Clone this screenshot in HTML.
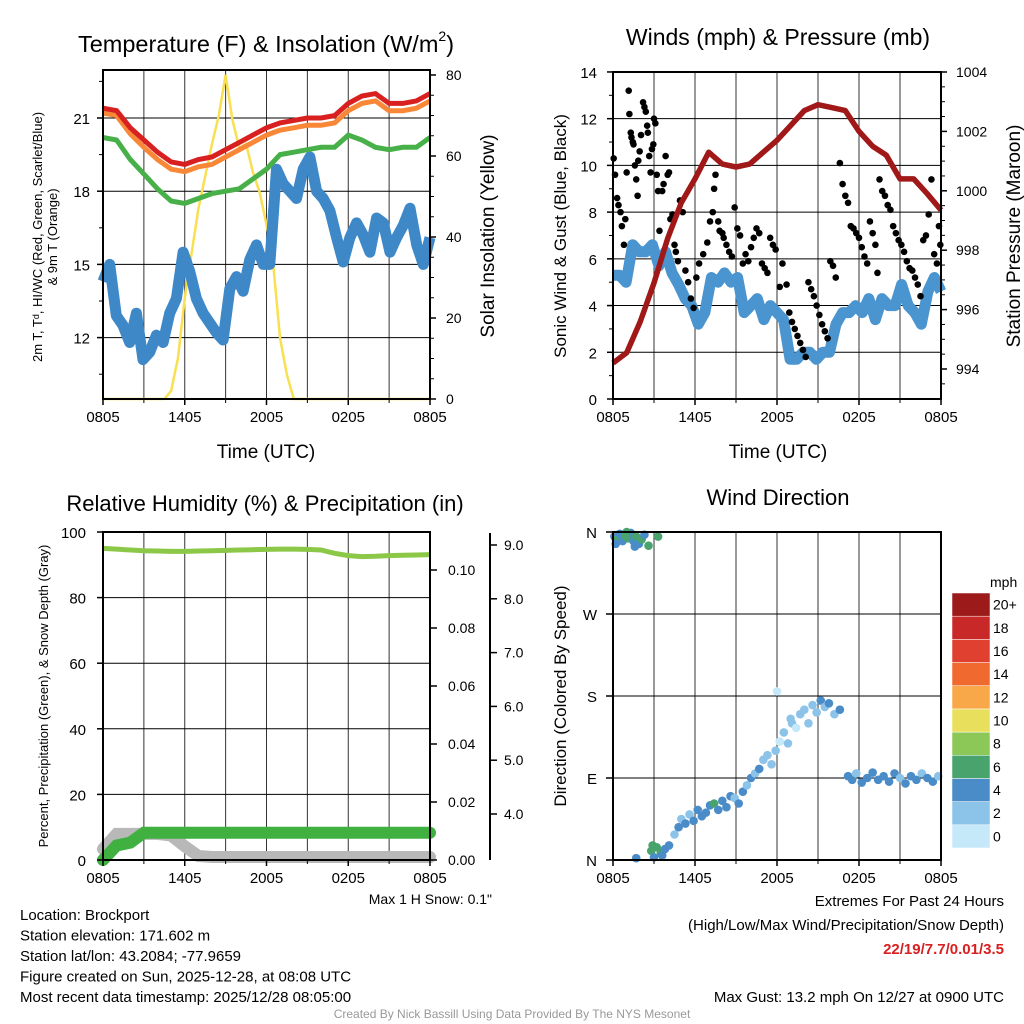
<!DOCTYPE html>
<html><head><meta charset="utf-8"><style>
html,body{margin:0;padding:0;background:#fff;}
svg{display:block;font-family:"Liberation Sans",Arial,sans-serif;}
</style></head><body>
<svg id="chart" width="1024" height="1024" viewBox="0 0 1024 1024" xmlns="http://www.w3.org/2000/svg">
<rect x="0" y="0" width="1024" height="1024" fill="#fff"/>
</svg>
<script>
// ---------- DATA ----------
const timeLabels = ["0805","1405","2005","0205","0805"];
// Panel 1 (hourly, 25 values)
const tempRed = [21.4,21.3,20.6,20.1,19.6,19.2,19.1,19.3,19.4,19.7,20.0,20.3,20.6,20.8,20.9,21.0,21.0,21.1,21.6,21.9,22.0,21.6,21.6,21.7,22.0];
const tempOrange = [21.2,21.1,20.35,19.8,19.3,18.9,18.8,19.0,19.1,19.4,19.7,20.0,20.3,20.5,20.6,20.7,20.7,20.8,21.3,21.6,21.7,21.3,21.3,21.4,21.7];
const tempGreen = [20.2,20.1,19.3,18.7,18.1,17.6,17.5,17.7,17.9,18.0,18.1,18.5,18.9,19.5,19.6,19.7,19.8,19.8,20.3,20.1,19.8,19.7,19.8,19.8,20.2];
// evenly spaced across 24 h
const tempSonic = [14.3,15.0,12.9,12.5,11.8,13.0,11.1,11.4,12.1,11.8,13.0,13.6,15.5,14.7,13.6,13.0,12.6,12.2,11.9,14.0,14.5,13.9,15.2,15.8,15.0,15.0,18.9,18.3,18.0,17.7,18.9,19.4,18.0,17.7,17.2,16.1,15.1,16.1,16.7,16.2,15.5,16.9,16.7,15.5,16.1,16.6,17.3,15.8,15.0,16.1];
const insolation = [0,0,0,0,0,0,0,0,0,0,2,10,25,36,47,55,63,70,80,69,62,63,56,51,43,33,15,6,0,0,0,0,0,0,0,0,0,0,0,0,0,0,0,0,0,0,0,0,0];
const tempTicks = [12,15,18,21];
const solarTicks = [0,20,40,60,80];
// Panel 2
const windSonic = [5.3,5.3,5.0,6.6,6.3,6.3,6.6,5.7,6.3,5.4,4.9,4.3,4.0,3.2,3.7,5.2,5.0,5.4,5.0,5.2,3.7,4.0,4.3,3.4,4.0,3.7,3.4,1.7,1.7,2.0,2.0,1.7,2.0,2.0,3.2,3.7,3.7,4.0,3.7,4.3,3.4,4.3,4.0,4.0,4.9,4.0,3.7,3.2,4.6,5.2,4.6];
const pressure = [994.2,994.55,995.6,996.9,998.4,999.6,1000.4,1001.3,1000.9,1000.8,1000.9,1001.3,1001.7,1002.2,1002.7,1002.9,1002.8,1002.7,1002.0,1001.5,1001.2,1000.4,1000.4,999.9,999.35];
const gustHours = [0.05,0.15,0.3,0.4,0.55,0.65,0.8,0.9,1.0, 1.15,1.2,1.3,1.35,1.45,1.5,1.6,1.7,1.8,1.85,1.95,2.05, 2.2,2.3,2.4,2.5,2.55,2.65,2.75,2.85,2.95,3.0,3.1,3.2,3.3,3.4, 3.6,3.7,3.85,4.0,4.1,4.2,4.35,4.5,4.6,4.75,4.9,5.1, 5.3,5.5,5.7,5.9,6.1,6.3,6.6,6.9,7.1, 7.3,7.4,7.5,7.7,7.8,8.0,8.1,8.3,8.5,8.7,8.9,9.1,9.3,9.5, 9.7,9.9,10.1,10.3,10.5,10.7,10.9,11.1,11.3,11.5,11.7,11.9,12.2,12.4, 12.7,12.9,13.1,13.3,13.5,13.7,13.9,14.1,14.3,14.5,14.7,14.9,15.1,15.3,15.5,15.7,15.9,16.1,16.3, 16.6,16.8,17.0,17.2,17.4,17.6,17.8,18.0,18.2,18.4,18.6,18.8,19.0,19.2,19.35, 19.5,19.7,19.9,20.1,20.3,20.5,20.7,20.9,21.1,21.3,21.5,21.7,21.9,22.1,22.3,22.5,22.7,22.9,23.1,23.3,23.5,23.7,23.85,23.95];
const gustValues = [10.3,9.6,8.6,8.3,8.0,7.4,6.6,7.7,9.7, 13.2,12.2,11.4,11.2,11.0,10.9,10.0,9.4,8.7,10.2,10.6,11.3, 12.7,12.5,12.3,11.7,11.4,10.4,9.7,10.7,10.9,12.0,11.8,9.6,8.9,7.2, 8.9,9.2,10.4,9.6,9.7,7.7,7.9,6.6,6.3,5.9,8.5,8.0, 5.5,5.0,4.3,3.9,5.2,5.8,6.2,6.7,7.6, 8.0,9.0,9.6,7.6,7.2,7.1,6.9,6.6,6.3,6.1,8.2,7.3,7.0,5.8, 6.2,5.9,6.5,6.9,7.3,7.1,5.8,5.6,5.4,6.9,6.6,6.4,4.8,5.8, 4.9,3.7,3.3,3.0,2.7,2.4,2.1,1.8,5.0,4.7,4.4,4.0,3.6,3.2,2.9,2.6,5.9,5.7,5.2, 10.1,9.2,8.7,8.4,7.4,7.3,7.1,6.9,6.5,6.1,5.8,7.6,7.1,6.6,5.4, 9.4,8.9,8.7,8.3,8.1,7.4,7.1,6.8,6.6,6.3,5.9,5.6,5.5,5.2,4.9,4.4,6.8,7.0,7.9,9.4,6.2,5.8,7.4,6.6];
const windTicks = [0,2,4,6,8,10,12,14];
const pressTicks = [994,996,998,1000,1002,1004];
// Panel 3 (hourly)
const rh = [95,94.8,94.5,94.3,94.2,94.1,94.1,94.2,94.3,94.4,94.5,94.6,94.7,94.8,94.8,94.7,94.5,93.5,92.8,92.5,92.6,92.8,92.9,93.0,93.1];
const precip = [0,0.005,0.006,0.0094,0.0094,0.0094,0.0094,0.0094,0.0094,0.0094,0.0094,0.0094,0.0094,0.0094,0.0094,0.0094,0.0094,0.0094,0.0094,0.0094,0.0094,0.0094,0.0094,0.0094,0.0094];
const snow = [3.35,3.63,3.63,3.63,3.63,3.6,3.4,3.22,3.2,3.2,3.2,3.2,3.2,3.2,3.2,3.2,3.2,3.2,3.2,3.2,3.2,3.2,3.2,3.2,3.2];
const rhTicks = [0,20,40,60,80,100];
const precipTicks = ["0.00","0.02","0.04","0.06","0.08","0.10"];
const snowTicks = ["4.0","5.0","6.0","7.0","8.0","9.0"];
// Panel 4
const dirHours = [0.1,0.3,0.5,0.7,0.9,1.1,1.3,1.5,1.7,1.9,2.1,2.3,2.6,3.3,0.2,1.0,1.6, 1.7,2.8,3.0,3.2,3.5,3.8,4.1,2.9,3.6, 4.5,4.8,5.0,5.3,5.6,5.9,6.2,6.5,6.8,7.1,7.4,7.7,8.0,8.3,8.6,8.9,9.2,9.5,9.8,10.1,10.4,10.7,11.0,11.3,11.6,11.9,12.2,12.5,12.8,13.1,13.4,13.7,14.0,14.3,14.6,14.9,15.2,15.5,15.8,16.2,16.6,12.0,13.0, 17.2,17.5,17.8,18.2,18.6,19.0,19.4,19.8,20.2,20.6,21.0,21.4,21.8,22.2,22.6,23.0,23.4,23.8];
const dirDegrees = [355,352,358,350,356,353,359,350,355,347,352,357,345,355,347,360,344, 2,10,3,14,8,12,16,16,5, 28,36,45,40,50,43,55,48,52,60,62,55,65,58,70,68,62,75,82,90,95,100,110,115,105,120,130,140,128,150,145,160,165,150,170,162,175,168,172,160,165,185,155, 92,88,95,85,90,96,88,92,86,95,90,84,92,88,95,90,86,92,88];
const dirSpeeds = [5,6,4,5,6,7,5,4,6,5,6,4,7,6,4,6,5, 4,6,5,7,6,4,5,6,5, 3,4,2,4,3,4,4,5,4,4,6,4,5,4,4,3,4,4,3,4,3,4,3,2,3,2,1,3,2,2,1,2,3,2,2,3,4,3,4,3,4,1,2, 4,4,3,5,4,4,5,4,4,4,3,4,4,4,3,4,4,3,4];
const speedLevels = ["0","2","4","6","8","10","12","14","16","18","20+"];
const speedColors = ["#c6e9fa","#8cc3e8","#4a8cc8","#48a46c","#8cc858","#e8e05c","#f8a848","#f06a30","#e04030","#c82828","#9c1a1a"];
const dirLabels = ["N","E","S","W","N"];

// ---------- HELPERS ----------
const NS='http://www.w3.org/2000/svg';
const svg=document.getElementById('chart');
function mk(tag,attrs,parent){const e=document.createElementNS(NS,tag);for(const k in attrs)e.setAttribute(k,attrs[k]);(parent||svg).appendChild(e);return e;}
function tx(x,y,s,size,anchor,rot,fill){const a={x:x,y:y,'font-size':size,'text-anchor':anchor||'middle',fill:fill||'#000'};if(rot)a.transform='rotate('+rot+' '+x+' '+y+')';const e=mk('text',a);e.textContent=s;return e;}
function linePath(vals,xf,yf,step){return vals.map((v,i)=>(i?'L':'M')+xf(i*step).toFixed(1)+','+yf(v).toFixed(1)).join(' ');}

// ---------- SCALES ----------
const X1=h=>103+h*327/24, YT=t=>118+(21-t)*24.4, YS=w=>399-w*4.05;
const X2=h=>613+h*328/24, YW=v=>399-v*23.36, YP=p=>369-(p-994)*29.7;
const X3=X1, YR=r=>860-r*3.28, YPr=p=>860-p*2900, YSn=s=>814-(s-4)*53.8;
const X4=X2, YD=d=>860-d*328/360;
const gridHours=[3,6,9,12,15,18,21];

function grid(g,x0,x1,y0,y1,xs,ys){xs.forEach(x=>mk('line',{x1:x,y1:y0,x2:x,y2:y1,stroke:'#000','stroke-width':1,'stroke-opacity':0.8},g));ys.forEach(y=>mk('line',{x1:x0,y1:y,x2:x1,y2:y,stroke:'#000','stroke-width':1},g));}
function timeAxis(g,xf,ybot){timeLabels.forEach((l,i)=>{const x=xf(i*6);mk('line',{x1:x,y1:ybot,x2:x,y2:ybot+6,stroke:'#000','stroke-width':1.5},g);const t=tx(x,ybot+23,l,15);});[3,9,15,21].forEach(h=>mk('line',{x1:xf(h),y1:ybot,x2:xf(h),y2:ybot+4,stroke:'#000'},g));}

// ================= PANEL 1 =================
const g1=mk('g',{});


grid(g1,103,430,70,399,gridHours.map(X1),tempTicks.map(YT));
const pSol=mk('path',{d:linePath(insolation,X1,YS,0.5),fill:'none',stroke:'#f8e050','stroke-width':2.5},g1);


const pSon=mk('path',{d:linePath(tempSonic,X1,YT,24/(tempSonic.length-1)),fill:'none',stroke:'#3e88c8','stroke-width':11,'stroke-linejoin':'round'},g1);


const pG=mk('path',{d:linePath(tempGreen,X1,YT,1),fill:'none',stroke:'#48b048','stroke-width':5},g1);


const pO=mk('path',{d:linePath(tempOrange,X1,YT,1),fill:'none',stroke:'#f88838','stroke-width':5},g1);


const pR=mk('path',{d:linePath(tempRed,X1,YT,1),fill:'none',stroke:'#d82020','stroke-width':5},g1);


mk('rect',{x:103,y:70,width:327,height:329,fill:'none',stroke:'#000','stroke-width':2},g1);
tempTicks.forEach(t=>{mk('line',{x1:97,y1:YT(t),x2:103,y2:YT(t),stroke:'#000','stroke-width':1.5},g1);const e=tx(90,YT(t)+6,String(t),15,'end');});
[10.5,13.5,16.5,19.5,22.5].forEach(t=>{if(YT(t)>70&&YT(t)<399)mk('line',{x1:99,y1:YT(t),x2:103,y2:YT(t),stroke:'#000'},g1);});
solarTicks.forEach(w=>{mk('line',{x1:430,y1:YS(w),x2:436,y2:YS(w),stroke:'#000','stroke-width':1.5},g1);const e=tx(446,YS(w)+5,String(w),14,'start');});
[5,10,15,25,30,35,45,50,55,65,70,75].forEach(w=>mk('line',{x1:430,y1:YS(w),x2:434,y2:YS(w),stroke:'#000'},g1));
timeAxis(g1,X1,399);
let e;
e=mk('text',{x:266,y:52,'font-size':23.5,'text-anchor':'middle',fill:'#000'});


e.innerHTML='Temperature (F) &amp; Insolation (W/m<tspan font-size="14" dy="-11">2</tspan><tspan dy="11">)</tspan>';
e=tx(266,458,'Time (UTC)',19);
e=tx(42,237,'2m T, T\u1d48, HI/WC (Red, Green, Scarlet/Blue)',13,'middle',-90);
e=tx(57,237,'& 9m T (Orange)',13,'middle',-90);
e=tx(494,236,'Solar Insolation (Yellow)',19,'middle',-90);

// ================= PANEL 2 =================
const g2=mk('g',{});


grid(g2,613,941,72,399,gridHours.map(X2),windTicks.map(YW));
const pW=mk('path',{d:linePath(windSonic,X2,YW,24/(windSonic.length-1)),fill:'none',stroke:'#4a94d0','stroke-width':11,'stroke-linejoin':'round'},g2);


gustHours.forEach((h,i)=>{const c=mk('circle',{cx:X2(h),cy:YW(gustValues[i]),r:3.3,fill:'#000'},g2);});
const pP=mk('path',{d:linePath(pressure,X2,YP,1),fill:'none',stroke:'#a01818','stroke-width':5.5,'stroke-linejoin':'round'},g2);


mk('rect',{x:613,y:72,width:328,height:327,fill:'none',stroke:'#000','stroke-width':2},g2);
windTicks.forEach(v=>{mk('line',{x1:607,y1:YW(v),x2:613,y2:YW(v),stroke:'#000','stroke-width':1.5},g2);const e=tx(597,YW(v)+6,String(v),15,'end');});
[1,3,5,7,9,11,13].forEach(v=>mk('line',{x1:609,y1:YW(v),x2:613,y2:YW(v),stroke:'#000'},g2));
pressTicks.forEach(p=>{mk('line',{x1:941,y1:YP(p),x2:947,y2:YP(p),stroke:'#000','stroke-width':1.5},g2);const e=tx(956,YP(p)+5,String(p),14,'start');});
[993.5,994.5,995,995.5,996.5,997,997.5,998.5,999,999.5,1000.5,1001,1001.5,1002.5,1003,1003.5].forEach(p=>mk('line',{x1:941,y1:YP(p),x2:945,y2:YP(p),stroke:'#000'},g2));
timeAxis(g2,X2,399);
e=tx(778,45,'Winds (mph) & Pressure (mb)',23);
e=tx(778,458,'Time (UTC)',19);
e=tx(566,236,'Sonic Wind & Gust (Blue, Black)',17,'middle',-90);
e=tx(1020,236,'Station Pressure (Maroon)',19,'middle',-90);

// ================= PANEL 3 =================
const g3=mk('g',{});


grid(g3,103,430,532,860,gridHours.map(X3),rhTicks.map(YR));
const pSn=mk('path',{d:linePath(snow,X3,YSn,1),fill:'none',stroke:'#b8b8b8','stroke-width':12,'stroke-linecap':'round'},g3);


const pPr=mk('path',{d:linePath(precip,X3,YPr,1),fill:'none',stroke:'#40b040','stroke-width':12,'stroke-linecap':'round'},g3);


const pRh=mk('path',{d:linePath(rh,X3,YR,1),fill:'none',stroke:'#8cc848','stroke-width':5},g3);


mk('rect',{x:103,y:532,width:327,height:328,fill:'none',stroke:'#000','stroke-width':2},g3);
rhTicks.forEach(r=>{mk('line',{x1:97,y1:YR(r),x2:103,y2:YR(r),stroke:'#000','stroke-width':1.5},g3);const e=tx(86,YR(r)+6,String(r),15,'end');});
precipTicks.forEach(p=>{const y=YPr(parseFloat(p));mk('line',{x1:430,y1:y,x2:437,y2:y,stroke:'#000','stroke-width':1.5},g3);const e=tx(448,y+5,p,14,'start');});
mk('line',{x1:490,y1:533,x2:490,y2:860,stroke:'#000','stroke-width':2},g3);
snowTicks.forEach(s=>{const y=YSn(parseFloat(s));mk('line',{x1:490,y1:y,x2:497,y2:y,stroke:'#000','stroke-width':1.5},g3);const e=tx(504,y+5,s,14,'start');});
timeAxis(g3,X3,860);
e=tx(265,511,'Relative Humidity (%) & Precipitation (in)',22);
e=tx(48,696,'Percent, Precipitation (Green), & Snow Depth (Gray)',13,'middle',-90);
e=tx(492,904,'Max 1 H Snow: 0.1"',14,'end');

// ================= PANEL 4 =================
const g4=mk('g',{});


grid(g4,613,941,532,860,gridHours.map(X4),[0,90,180,270,360].map(YD));
function speedColor(s){let i=Math.floor(s/2);if(i>10)i=10;if(i<0)i=0;return speedColors[i];}
dirHours.forEach((h,i)=>{const c=mk('circle',{cx:X4(h),cy:YD(dirDegrees[i]),r:4.3,fill:speedColor(dirSpeeds[i])},g4);});
mk('rect',{x:613,y:532,width:328,height:328,fill:'none',stroke:'#000','stroke-width':2},g4);
dirLabels.forEach((l,i)=>{const y=YD(i*90);mk('line',{x1:606,y1:y,x2:613,y2:y,stroke:'#000','stroke-width':1.5},g4);const e=tx(597,y+6,l,15,'end');});
timeAxis(g4,X4,860);
e=tx(778,505,'Wind Direction',22);
e=tx(566,696,'Direction (Colored By Speed)',17,'middle',-90);
const gc=mk('g',{});


const cbTop=593, cbH=255/11;
speedLevels.forEach((l,i)=>{const y=cbTop+(10-i)*cbH;const r=mk('rect',{x:952,y:y,width:38,height:cbH,fill:speedColors[i],stroke:'#fff','stroke-width':0.5},gc);const t=tx(993,y+cbH/2+5,l,14,'start');});
e=tx(990,587,'mph',14,'start');

// ================= FOOTER =================
const info=["Location: Brockport","Station elevation: 171.602 m","Station lat/lon: 43.2084; -77.9659","Figure created on Sun, 2025-12-28, at 08:08 UTC","Most recent data timestamp: 2025/12/28 08:05:00"];
info.forEach((s,i)=>{const t=tx(20,920+i*20.5,s,15,'start');});
e=tx(1004,906,'Extremes For Past 24 Hours',15,'end');
e=tx(1004,930,'(High/Low/Max Wind/Precipitation/Snow Depth)',15,'end');
e=tx(1004,954,'22/19/7.7/0.01/3.5',15,'end',0,'#d82020');e.setAttribute('font-weight','bold');
e=tx(1004,1002,'Max Gust: 13.2 mph On 12/27 at 0900 UTC',15,'end');
e=tx(512,1018,'Created By Nick Bassill Using Data Provided By The NYS Mesonet',12,'middle',0,'#999');
</script>
</body></html>
